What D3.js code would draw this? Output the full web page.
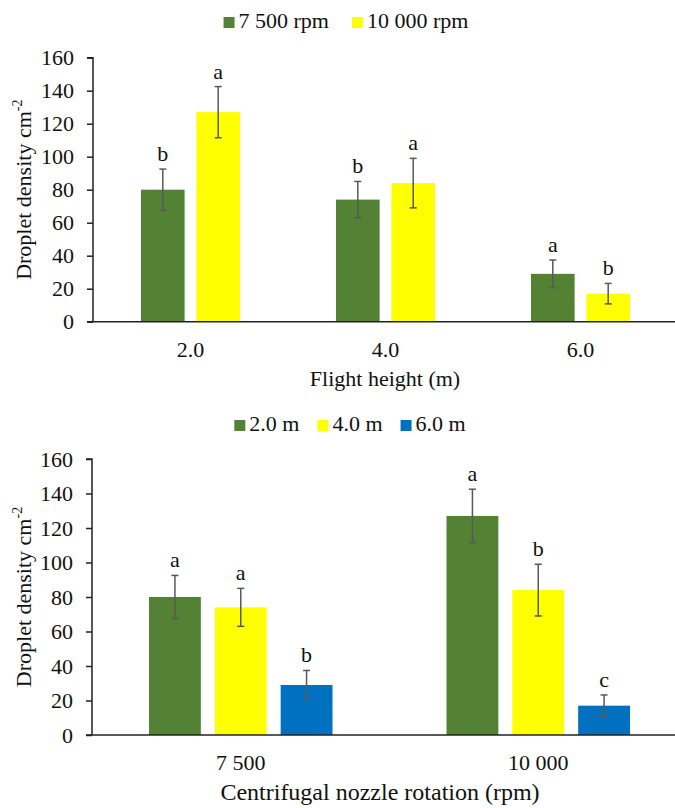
<!DOCTYPE html>
<html>
<head>
<meta charset="utf-8">
<script src="https://cdn.jsdelivr.net/npm/d3@7"></script>
<style>
  html, body { margin: 0; padding: 0; background: #fff; }
  svg { display: block; font-family: "Liberation Serif", "Times New Roman", serif; }
</style>
</head>
<body>
<svg id="fig" width="675" height="808"></svg>
<script>
// Droplet density by flight height and nozzle rotation speed
const heights = ["2.0", "4.0", "6.0"];
const rpms = ["7 500", "10 000"];

// mean droplet density (cm^-2), indexed by flight height
const density7500 = [80, 74, 29];
const density10000 = [127, 84, 17];
// standard deviations
const sd7500 = [12.5, 11, 8.4];
const sd10000 = [15.5, 15, 6.2];

// significance letters: comparing rotations within each height
const lettersByHeight7500 = ["b", "b", "a"];
const lettersByHeight10000 = ["a", "a", "b"];
// significance letters: comparing heights within each rotation
const lettersByRpm = {
  "7 500": ["a", "a", "b"],
  "10 000": ["a", "b", "c"]
};

const yTicks = [0, 20, 40, 60, 80, 100, 120, 140, 160];

const colGreen = "#548235", colYellow = "#FFFF00", colBlue = "#0070C0";
const heightColors = [colGreen, colYellow, colBlue];
const rpmColors = [colGreen, colYellow];

const svg = d3.select("#fig");
const FONT = 22;
const SERIF = "Liberation Serif, Times New Roman, serif";

function panel(cfg) {
  const g = svg.append("g").attr("font-family", SERIF);
  const y = d3.scaleLinear().domain([0, 160]).range([cfg.y0, cfg.y1]);
  const x = d3.scaleBand().domain(cfg.categories).range([cfg.xLeft, cfg.xRight]).padding(0);
  const n = cfg.series.length;
  const step = x.step();
  const bw = step / (n + (n - 1) * 0.27 + 2.2);
  const gap = bw * 0.27;
  const groupW = n * bw + (n - 1) * gap;

  // bars, error bars and letters
  cfg.series.forEach((s, si) => {
    const recs = cfg.categories.map((c, ci) => ({
      c, v: s.values[ci], e: s.errors[ci], l: s.letters[ci],
      x: x(c) + (step - groupW) / 2 + si * (bw + gap)
    }));
    g.selectAll(null).data(recs).enter().append("rect")
      .attr("x", d => d.x).attr("width", bw)
      .attr("y", d => y(d.v)).attr("height", d => y(0) - y(d.v))
      .attr("fill", s.color);
    const eb = g.selectAll(null).data(recs).enter().append("g")
      .attr("stroke", "#595959").attr("stroke-width", 1.5);
    eb.append("line").attr("x1", d => d.x + bw / 2).attr("x2", d => d.x + bw / 2)
      .attr("y1", d => y(d.v + d.e)).attr("y2", d => y(d.v - d.e));
    eb.append("line").attr("x1", d => d.x + bw / 2 - 3.5).attr("x2", d => d.x + bw / 2 + 3.5)
      .attr("y1", d => y(d.v + d.e)).attr("y2", d => y(d.v + d.e));
    eb.append("line").attr("x1", d => d.x + bw / 2 - 3.5).attr("x2", d => d.x + bw / 2 + 3.5)
      .attr("y1", d => y(d.v - d.e)).attr("y2", d => y(d.v - d.e));
    g.selectAll(null).data(recs).enter().append("text")
      .attr("x", d => d.x + bw / 2).attr("y", d => y(d.v + d.e) - 8)
      .attr("text-anchor", "middle").attr("font-size", FONT).attr("fill", "#111")
      .text(d => d.l);
  });

  // y axis
  const ya = g.append("g").attr("transform", `translate(${cfg.xLeft},0)`)
    .call(d3.axisLeft(y).tickValues(yTicks).tickSize(6).tickPadding(13));
  ya.attr("font-family", SERIF);
  ya.select(".domain").attr("stroke", "#222").attr("stroke-width", 1.5).attr("d", `M-6,${y(160)}H0V${y(0)}`);
  ya.selectAll(".tick line").attr("stroke", "#222").attr("stroke-width", 1.5);
  ya.selectAll(".tick text").attr("font-size", FONT).attr("fill", "#111");

  // x axis (no ticks)
  const xa = g.append("g").attr("transform", `translate(0,${y(0)})`)
    .call(d3.axisBottom(x).tickSize(0).tickPadding(14));
  xa.attr("font-family", SERIF);
  xa.select(".domain").attr("stroke", "#222").attr("stroke-width", 1.5)
    .attr("d", `M${cfg.xLeft - 6},0H675`);
  xa.selectAll(".tick text").attr("font-size", FONT).attr("fill", "#111")
    .attr("dy", null).attr("y", cfg.catBaseline - y(0));

  // axis titles
  g.append("text").attr("x", cfg.xTitleX).attr("y", cfg.xTitleY)
    .attr("text-anchor", "middle").attr("font-size", cfg.xTitleSize).attr("fill", "#111")
    .text(cfg.xTitle);
  const yt = g.append("text")
    .attr("transform", `translate(31,${(y(0) + y(160)) / 2}) rotate(-90)`)
    .attr("text-anchor", "middle").attr("font-size", FONT).attr("fill", "#111");
  yt.append("tspan").text("Droplet density cm");
  yt.append("tspan").attr("font-size", 14).attr("dy", -9).text("-2");

  // legend, centred above the plot
  const lg = g.append("g");
  let cx = 0;
  cfg.series.forEach(s => {
    const it = lg.append("g").attr("transform", `translate(${cx},0)`);
    it.append("rect").attr("x", 0).attr("y", -11).attr("width", 11).attr("height", 11).attr("fill", s.color);
    const t = it.append("text").attr("x", 15).attr("y", 0).attr("font-size", FONT).attr("fill", "#111").text(s.name);
    const w = 15 + t.node().getComputedTextLength();
    cx += w + cfg.legendGap;
  });
  const total = cx - cfg.legendGap;
  lg.attr("transform", `translate(${cfg.legendCenter - total / 2},${cfg.legendBaseline})`);
}

// upper panel: grouped by flight height
panel({
  categories: heights,
  series: [
    { name: "7 500 rpm", values: density7500, errors: sd7500, letters: lettersByHeight7500, color: rpmColors[0] },
    { name: "10 000 rpm", values: density10000, errors: sd10000, letters: lettersByHeight10000, color: rpmColors[1] }
  ],
  y0: 321.7, y1: 57.7, xLeft: 93, xRight: 678,
  catBaseline: 357, xTitle: "Flight height (m)", xTitleX: 385, xTitleY: 386, xTitleSize: 22,
  legendCenter: 346, legendBaseline: 28, legendGap: 23
});

// lower panel: grouped by nozzle rotation
panel({
  categories: rpms,
  series: heights.map((h, hi) => ({
    name: h + " m",
    values: [density7500[hi], density10000[hi]],
    errors: [sd7500[hi], sd10000[hi]],
    letters: rpms.map(r => lettersByRpm[r][hi]),
    color: heightColors[hi]
  })),
  y0: 735, y1: 459, xLeft: 92, xRight: 687,
  catBaseline: 770, xTitle: "Centrifugal nozzle rotation (rpm)", xTitleX: 380, xTitleY: 800, xTitleSize: 24,
  legendCenter: 350, legendBaseline: 431, legendGap: 18
});
</script>
</body>
</html>
